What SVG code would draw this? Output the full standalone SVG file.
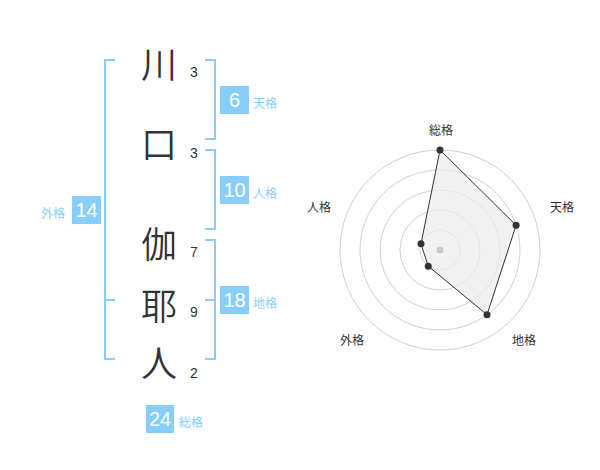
<svg xmlns="http://www.w3.org/2000/svg" width="600" height="470" viewBox="0 0 600 470">
<style>
.k{font-family:"Noto Sans CJK JP","Noto Sans",sans-serif;font-size:36px;font-weight:350;fill:#333;text-anchor:middle}
.n{font-family:"Liberation Sans",Arial,sans-serif;font-size:14px;fill:#333}
.br{fill:none;stroke:#87cefa;stroke-width:2}
.bx{fill:#87cefa}
.bn{font-family:"Liberation Sans",Arial,sans-serif;font-size:20px;fill:#fff;text-anchor:middle}
.bl{font-family:"Noto Sans CJK JP",sans-serif;font-size:12px;fill:#87cefa}
.ring{fill:none;stroke:#d0d0d0;stroke-width:1}
.ax{font-family:"Noto Sans CJK JP",sans-serif;font-size:12px;fill:#333;text-anchor:middle}
.pt{fill:#333}
</style>
<rect width="600" height="470" fill="#fff"/>
<g id="connectors">
<path class="br" d="M115,60 H105 V359 H115 M105,300 H115"/>
<path class="br" d="M205,60 H215 V139 H205"/>
<path class="br" d="M205,150 H215 V229 H205"/>
<path class="br" d="M205,240 H215 V359 H205 M205,300 H215"/>
</g>
<g id="char-kawa"><text class="k" x="159" y="78">川</text><text class="n" x="190" y="77">3</text></g>
<g id="char-kuchi"><text class="k" x="159" y="158">口</text><text class="n" x="190" y="158">3</text></g>
<g id="char-ka"><text class="k" x="159" y="258">伽</text><text class="n" x="190" y="257">7</text></g>
<g id="char-ya"><text class="k" x="159" y="320">耶</text><text class="n" x="190" y="317">9</text></g>
<g id="char-hito"><text class="k" x="159" y="377">人</text><text class="n" x="190" y="378">2</text></g>
<g id="tenkaku"><rect class="bx" x="220" y="86" width="29" height="28"/><text class="bn" x="234.5" y="107">6</text><text class="bl" x="253" y="108">天格</text></g>
<g id="jinkaku"><rect class="bx" x="220" y="176" width="29" height="28"/><text class="bn" x="234.5" y="197">10</text><text class="bl" x="253" y="198">人格</text></g>
<g id="chikaku"><rect class="bx" x="220" y="286" width="29" height="28"/><text class="bn" x="234.5" y="307">18</text><text class="bl" x="253" y="308">地格</text></g>
<g id="gaikaku"><rect class="bx" x="72" y="196" width="29" height="28"/><text class="bn" x="86.5" y="217">14</text><text class="bl" x="41" y="218">外格</text></g>
<g id="soukaku"><rect class="bx" x="146" y="405" width="28" height="28"/><text class="bn" x="160" y="426">24</text><text class="bl" x="179" y="427">総格</text></g>
<g id="radar">
<circle class="ring" cx="440" cy="250" r="100"/>
<circle class="ring" cx="440" cy="250" r="80"/>
<circle class="ring" cx="440" cy="250" r="60"/>
<circle class="ring" cx="440" cy="250" r="40"/>
<circle class="ring" cx="440" cy="250" r="20"/>
<polygon points="440,150 516.09,225.28 487.02,314.72 428.24,266.18 420.98,243.82" fill="#ebebeb" fill-opacity="0.7" stroke="#333" stroke-width="1"/>
<circle cx="440" cy="250" r="3.5" fill="#c8c8c8"/>
<circle class="pt" cx="440" cy="150" r="3.5"/>
<circle class="pt" cx="516.09" cy="225.28" r="3.5"/>
<circle class="pt" cx="487.02" cy="314.72" r="3.5"/>
<circle class="pt" cx="428.24" cy="266.18" r="3.5"/>
<circle class="pt" cx="420.98" cy="243.82" r="3.5"/>
<text class="ax" x="441" y="135">総格</text>
<text class="ax" x="562" y="212">天格</text>
<text class="ax" x="524" y="345">地格</text>
<text class="ax" x="352" y="345">外格</text>
<text class="ax" x="319" y="212">人格</text>
</g>
</svg>
